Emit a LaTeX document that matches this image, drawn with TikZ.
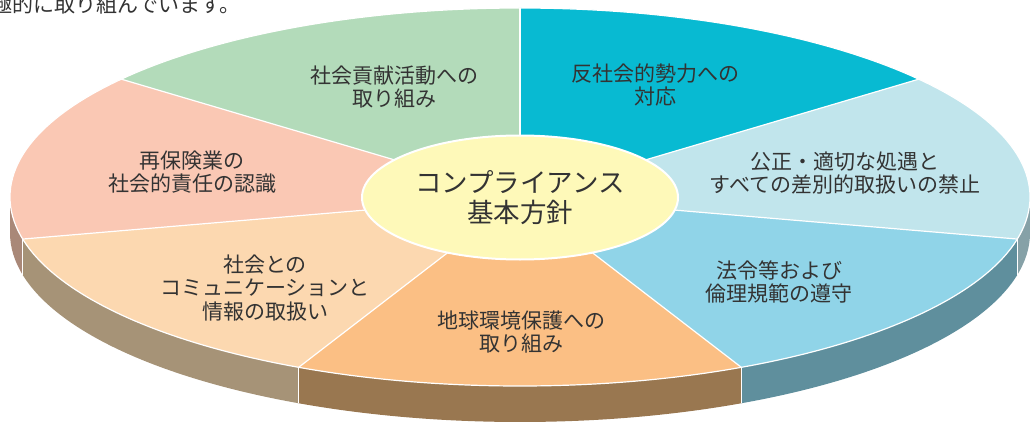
\documentclass[tikz,border=0pt]{standalone}
\usepackage{fontspec}
\setmainfont{Noto Sans CJK JP}
\usetikzlibrary{shapes.geometric}

\definecolor{antiC}{HTML}{08BAD2}
\definecolor{fairC}{HTML}{C1E5EC}
\definecolor{lawC}{HTML}{90D4E8}
\definecolor{envC}{HTML}{FBBF84}
\definecolor{commC}{HTML}{FCD8B0}
\definecolor{reinsC}{HTML}{FAC8B4}
\definecolor{giftC}{HTML}{B3DBBA}
\definecolor{hubC}{HTML}{FEF9B9}
\definecolor{fairS}{HTML}{86A1A7}
\definecolor{lawS}{HTML}{5F8F9D}
\definecolor{envS}{HTML}{997750}
\definecolor{commS}{HTML}{A69377}
\definecolor{reinsS}{HTML}{A98878}
\definecolor{inkC}{HTML}{333333}

\tikzset{
  slicetext/.style={align=center,text=inkC,inner sep=0pt,font=\fontsize{21}{23.5}\selectfont},
  hub/.style={ellipse,fill=hubC,draw=white,line width=2pt,minimum width=316pt,minimum height=124pt,
    inner sep=0pt,align=center,text=inkC,font=\fontsize{26.5}{30}\selectfont},
  rimline/.style={white,line width=1.2pt},
}

\begin{document}
\begin{tikzpicture}[x=1pt,y=1pt]
\useasboundingbox (0,0) rectangle (1030,421);
\coordinate (O) at (520,224);

\node[anchor=base west,inner sep=0pt,text=inkC,font=\fontsize{21}{24}\selectfont] (lead) at (-9,408.5) {極的に取り組んでいます。};

\foreach \a/\b/\c in {0/-12.857/fairS,-12.857/-64.286/lawS,-64.286/-115.714/envS,-115.714/-167.143/commS,-167.143/-180/reinsS}
  \fill[\c] ([shift={(\a:510pt and 189pt)}]O) arc[start angle=\a,end angle=\b,x radius=510pt,y radius=189pt]
    -- ++(0,-36) arc[start angle=\b,end angle=\a,x radius=510pt,y radius=189pt] -- cycle;

\foreach \a/\b/\c in {90/38.571/antiC,38.571/-12.857/fairC,-12.857/-64.286/lawC,-64.286/-115.714/envC,-115.714/-167.143/commC,-167.143/-218.571/reinsC,141.429/90/giftC}
  \fill[\c] (O) -- ([shift={(\a:510pt and 189pt)}]O) arc[start angle=\a,end angle=\b,x radius=510pt,y radius=189pt] -- cycle;

\draw[rimline] (O) ellipse[x radius=510pt,y radius=189pt];
\foreach \a in {90,38.571,-12.857,-64.286,-115.714,-167.143,141.429}
  \draw[rimline] (O) -- ([shift={(\a:510pt and 189pt)}]O);
\foreach \a in {-12.857,-64.286,-115.714,-167.143}
  \draw[rimline] ([shift={(\a:510pt and 189pt)}]O) -- ++(0,-36);

\node[hub] (core) at (520,223.5) {コンプライアンス\\基本方針};

\node[slicetext] (gift) at (394,334) {社会貢献活動への\\取り組み};
\node[slicetext] (anti) at (655,336) {反社会的勢力への\\対応};
\node[slicetext] (fair) at (845,248) {公正・適切な処遇と\\すべての差別的取扱いの禁止};
\node[slicetext] (law) at (779,139) {法令等および\\倫理規範の遵守};
\node[slicetext] (env) at (521,89) {地球環境保護への\\取り組み};
\node[slicetext] (comm) at (265,133) {社会との\\コミュニケーションと\\情報の取扱い};
\node[slicetext] (reins) at (192,249) {再保険業の\\社会的責任の認識};

\end{tikzpicture}
\end{document}
